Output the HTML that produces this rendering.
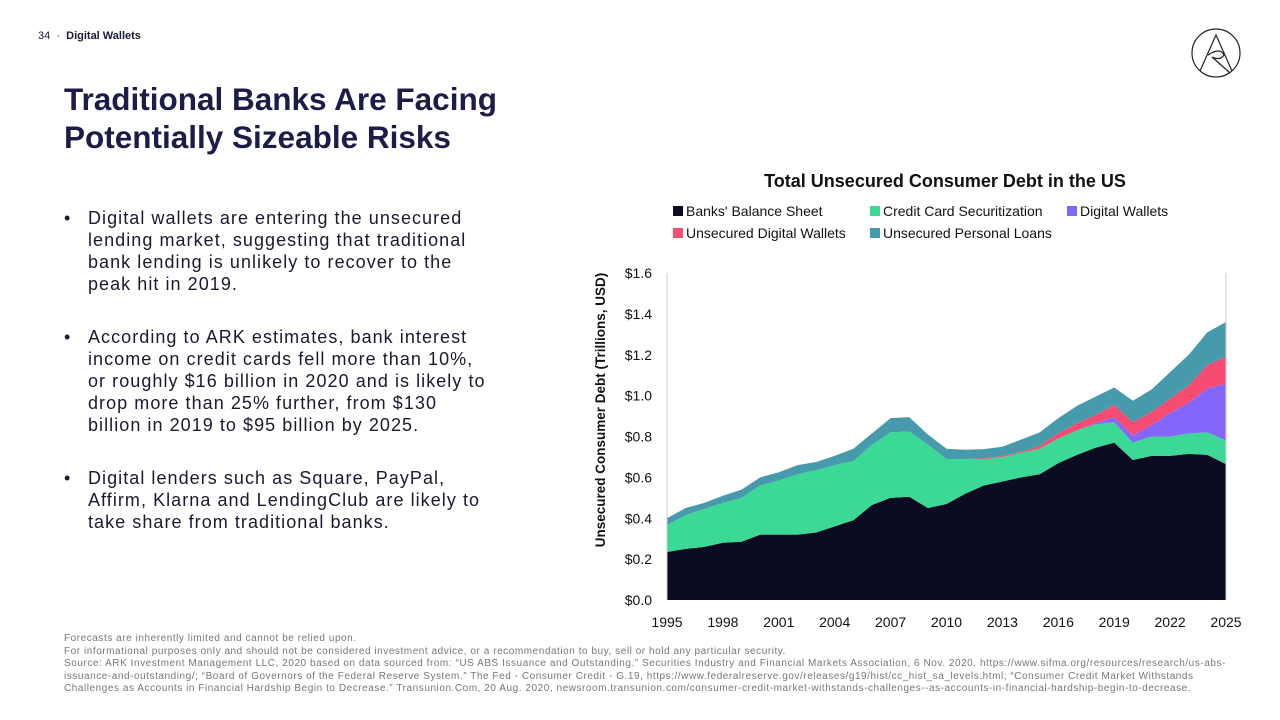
<!DOCTYPE html>
<html><head><meta charset="utf-8">
<style>
body{margin:0;width:1280px;height:720px;background:#fff;font-family:"Liberation Sans",sans-serif;position:relative;overflow:hidden;color:#1a1a3a}
.abs{position:absolute}
h1{position:absolute;left:64px;top:80px;margin:0;font-size:31.5px;line-height:38px;font-weight:bold;color:#1c1c48}
ul{position:absolute;left:64px;top:207px;margin:0;padding:0;list-style:none;width:460px}
li{position:relative;padding-left:24px;font-size:18px;line-height:22px;color:#1a1a2e;margin-bottom:31px;white-space:nowrap;letter-spacing:1.05px}
li:before{content:"•";position:absolute;left:0;top:0}
.foot{left:64px;top:633px;font-size:10px;line-height:12.5px;color:#777;white-space:nowrap;letter-spacing:0.55px}
</style></head><body>
<div class="abs" style="left:38px;top:30px;font-size:11px">34 &nbsp;·&nbsp; <b>Digital Wallets</b></div>
<svg class="abs" style="left:1190px;top:27px" width="52" height="52" viewBox="0 0 52 52"><circle cx="26" cy="26" r="24" fill="none" stroke="#222" stroke-width="1.2"/><path d="M10 44 L26 8 L42 44 M18 28 Q30 20 34 28 Q30 34 22 30 L40 46" fill="none" stroke="#222" stroke-width="1.2"/></svg>
<h1>Traditional Banks Are Facing<br>Potentially Sizeable Risks</h1>
<ul>
<li>Digital wallets are entering the unsecured<br>lending market, suggesting that traditional<br>bank lending is unlikely to recover to the<br>peak hit in 2019.</li>
<li>According to ARK estimates, bank interest<br>income on credit cards fell more than 10%,<br>or roughly $16 billion in 2020 and is likely to<br>drop more than 25% further, from $130<br>billion in 2019 to $95 billion by 2025.</li>
<li>Digital lenders such as Square, PayPal,<br>Affirm, Klarna and LendingClub are likely to<br>take share from traditional banks.</li>
</ul>
<div class="abs foot">Forecasts are inherently limited and cannot be relied upon.<br>For informational purposes only and should not be considered investment advice, or a recommendation to buy, sell or hold any particular security.<br>Source: ARK Investment Management LLC, 2020 based on data sourced from: “US ABS Issuance and Outstanding.” Securities Industry and Financial Markets Association, 6 Nov. 2020, https://www.sifma.org/resources/research/us-abs-<br>issuance-and-outstanding/; “Board of Governors of the Federal Reserve System.” The Fed - Consumer Credit - G.19, https://www.federalreserve.gov/releases/g19/hist/cc_hist_sa_levels.html; “Consumer Credit Market Withstands<br>Challenges as Accounts in Financial Hardship Begin to Decrease.” Transunion.Com, 20 Aug. 2020, newsroom.transunion.com/consumer-credit-market-withstands-challenges--as-accounts-in-financial-hardship-begin-to-decrease.</div>
<svg id="chart" class="abs" style="left:0;top:0" width="1280" height="720"></svg>
<script>
const years=[1995,1996,1997,1998,1999,2000,2001,2002,2003,2004,2005,2006,2007,2008,2009,2010,2011,2012,2013,2014,2015,2016,2017,2018,2019,2020,2021,2022,2023,2024,2025];
const banks=[0.235,0.25,0.26,0.28,0.285,0.32,0.32,0.32,0.33,0.36,0.39,0.465,0.50,0.505,0.45,0.47,0.52,0.56,0.58,0.60,0.615,0.67,0.71,0.745,0.77,0.685,0.705,0.705,0.715,0.71,0.665];
const creditCard=[0.132,0.165,0.185,0.195,0.215,0.24,0.265,0.295,0.305,0.30,0.29,0.295,0.32,0.32,0.31,0.22,0.17,0.13,0.12,0.12,0.125,0.12,0.12,0.115,0.10,0.085,0.095,0.095,0.10,0.11,0.115];
const digitalWallets=[0,0,0,0,0,0,0,0,0,0,0,0,0,0,0,0,0,0,0,0,0,0,0,0.005,0.025,0.035,0.055,0.115,0.15,0.215,0.28];
const unsecuredDW=[0,0,0,0,0,0,0,0,0,0,0,0,0,0,0,0,0,0.003,0.005,0.005,0.015,0.025,0.035,0.04,0.06,0.065,0.065,0.07,0.085,0.115,0.13];
const personalLoans=[0.033,0.035,0.03,0.035,0.04,0.04,0.04,0.045,0.04,0.045,0.06,0.055,0.07,0.07,0.05,0.05,0.045,0.045,0.045,0.06,0.065,0.075,0.085,0.09,0.085,0.105,0.11,0.13,0.15,0.16,0.17];
const yTicks=[0,0.2,0.4,0.6,0.8,1.0,1.2,1.4,1.6];
const yTickLabels=["$0.0","$0.2","$0.4","$0.6","$0.8","$1.0","$1.2","$1.4","$1.6"];
const xTickYears=[1995,1998,2001,2004,2007,2010,2013,2016,2019,2022,2025];
const seriesNames=["Banks' Balance Sheet","Credit Card Securitization","Digital Wallets","Unsecured Digital Wallets","Unsecured Personal Loans"];
const colors=["#0b0b21","#3bd995","#8466fb","#f64c72","#479aab"];
const series=[banks,creditCard,digitalWallets,unsecuredDW,personalLoans];
const X0=667,X1=1226,Y0=600,Y1=273;
const xs=y=>X0+(y-1995)/(2025-1995)*(X1-X0);
const ys=v=>Y0-v/1.6*(Y0-Y1);
const svg=document.getElementById('chart');const NS='http://www.w3.org/2000/svg';
function mk(t,a,txt){const e=document.createElementNS(NS,t);for(const k in a)e.setAttribute(k,a[k]);if(txt!==undefined)e.textContent=txt;svg.appendChild(e);return e;}
let t=mk('text',{x:945,y:187,'text-anchor':'middle','font-size':18,'font-weight':'bold',fill:'#111'},'Total Unsecured Consumer Debt in the US');


let base=years.map(()=>0);
const slugs=['banks','credit-card','digital-wallets','unsecured-digital-wallets','personal-loans'];
series.forEach((s,i)=>{
 const top=base.map((b,j)=>b+s[j]);
 let d='M'+years.map((y,j)=>xs(y)+','+ys(top[j])).join('L');
 for(let j=years.length-1;j>=0;j--)d+='L'+xs(years[j])+','+ys(base[j]);
 const p=mk('path',{d:d+'Z',fill:colors[i]});
 
 
 base=top;
});
let l=mk('line',{x1:X0,y1:Y1,x2:X0,y2:Y0,stroke:'#ccc'});


l=mk('line',{x1:X1,y1:Y1,x2:X1,y2:Y0,stroke:'#ccc'});


yTicks.forEach((v,i)=>{const e=mk('text',{x:652,y:ys(v)+5,'text-anchor':'end','font-size':14,fill:'#111'},yTickLabels[i]);
 
 });
xTickYears.forEach(y=>{const e=mk('text',{x:xs(y),y:627,'text-anchor':'middle','font-size':14,fill:'#111'},String(y));
 
 });
t=mk('text',{x:0,y:0,transform:'translate(605,410) rotate(-90)','text-anchor':'middle','font-size':13.5,'font-weight':'bold',fill:'#111'},'Unsecured Consumer Debt (Trillions, USD)');


const legPos=[[673,212],[870,212],[1067,212],[673,234],[870,234]];
seriesNames.forEach((n,i)=>{
 const r=mk('rect',{x:legPos[i][0],y:legPos[i][1]-6,width:10,height:10,fill:colors[i]});
 
 
 const e=mk('text',{x:legPos[i][0]+13,y:legPos[i][1]+4,'font-size':14,fill:'#111'},n);
 
 
});
</script>
</body></html>
